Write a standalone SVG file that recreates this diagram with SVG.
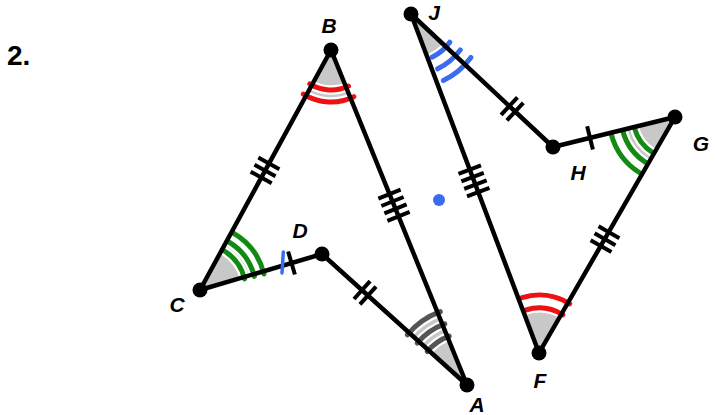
<svg xmlns="http://www.w3.org/2000/svg" xmlns:xlink="http://www.w3.org/1999/xlink" width="717" height="415" viewBox="0 0 717 415">
<style>
.fill{fill:#c8c8c8;stroke:none}
.halo{fill:none;stroke:#fff;stroke-width:9.5;stroke-linecap:round}
.arc{fill:none;stroke-width:5;stroke-linecap:round}
.red{stroke:#ee1111}
.grn{stroke:#138a13}
.blu{stroke:#3a6cf0}
.gry{stroke:#555}
.edge{stroke:#000;stroke-width:4.5;stroke-linecap:round;fill:none}
.tick{stroke:#000;stroke-width:4;fill:none}
.dot{fill:#000}
.lbl{font-family:"Liberation Sans",Arial,sans-serif;font-weight:bold;font-style:italic;font-size:21px;fill:#000;text-anchor:middle}
.num{font-family:"Liberation Sans",Arial,sans-serif;font-weight:bold;font-size:28px;fill:#000}
</style>
<defs>
<g id="t1"><line class="tick" x1="0" y1="-12" x2="0" y2="12"/></g>
<g id="t2"><line class="tick" x1="-4" y1="-12" x2="-4" y2="12"/><line class="tick" x1="4" y1="-12" x2="4" y2="12"/></g>
<g id="t3"><line class="tick" x1="-8" y1="-12" x2="-8" y2="12"/><line class="tick" x1="0" y1="-12" x2="0" y2="12"/><line class="tick" x1="8" y1="-12" x2="8" y2="12"/></g>
<g id="t4"><line class="tick" x1="-12" y1="-12" x2="-12" y2="12"/><line class="tick" x1="-4" y1="-12" x2="-4" y2="12"/><line class="tick" x1="4" y1="-12" x2="4" y2="12"/><line class="tick" x1="12" y1="-12" x2="12" y2="12"/></g>
</defs>
<text class="num" x="7" y="65">2.</text>

<g id="angle-B">
<path class="fill" d="M331,50 L351.7,101.1 A55,55 0 0 1 304.6,98.2 Z"/>
<path class="halo" d="M348.5,86.0 A40,40 0 0 1 309.8,83.9 M353.8,96.7 A52,52 0 0 1 303.4,94.1"/>
<path class="arc red" d="M348.5,86.0 A40,40 0 0 1 309.8,83.9 M353.8,96.7 A52,52 0 0 1 303.4,94.1"/>
</g>
<g id="angle-C">
<path class="fill" d="M200,290 L225.9,242.6 A54,54 0 0 1 251.8,274.8 Z"/>
<path class="halo" d="M223,250.2 A46,46 0 0 1 244.6,278.9 M228,241.5 A56,56 0 0 1 254.3,276.4 M233,232.8 A66,66 0 0 1 264.0,274.0"/>
<path class="arc grn" d="M223,250.2 A46,46 0 0 1 244.6,278.9 M228,241.5 A56,56 0 0 1 254.3,276.4 M233,232.8 A66,66 0 0 1 264.0,274.0"/>
</g>
<g id="angle-A">
<path class="fill" d="M467,385 L407.6,331.4 A80,80 0 0 1 436.9,310.9 Z"/>
<path class="halo" d="M427.2,351.6 A52,52 0 0 1 449.2,336.1 M417.2,343.2 A65,65 0 0 1 444.8,323.9 M407.3,334.8 A78,78 0 0 1 440.3,311.7"/>
<path class="arc gry" d="M427.2,351.6 A52,52 0 0 1 449.2,336.1 M417.2,343.2 A65,65 0 0 1 444.8,323.9 M407.3,334.8 A78,78 0 0 1 440.3,311.7"/>
</g>
<g id="angle-J">
<path class="fill" d="M411,14 L446.0,46.8 A48,48 0 0 1 428.0,58.9 Z"/>
<path class="halo" d="M449.8,42.2 A48,48 0 0 1 432.0,57.2 M460.3,49.9 A61,61 0 0 1 437.7,68.8 M470.9,57.5 A74,74 0 0 1 443.4,80.5"/>
<path class="arc blu" d="M449.8,42.2 A48,48 0 0 1 432.0,57.2 M460.3,49.9 A61,61 0 0 1 437.7,68.8 M470.9,57.5 A74,74 0 0 1 443.4,80.5"/>
</g>
<g id="angle-G">
<path class="fill" d="M675,117 L650.1,160.4 A50,50 0 0 1 626.5,129.0 Z"/>
<path class="halo" d="M652.7,152.6 A42,42 0 0 1 634.4,127.9 M646.4,162.8 A54,54 0 0 1 622.8,131.0 M640.0,173.0 A66,66 0 0 1 611.2,134.1"/>
<path class="arc grn" d="M652.7,152.6 A42,42 0 0 1 634.4,127.9 M646.4,162.8 A54,54 0 0 1 622.8,131.0 M640.0,173.0 A66,66 0 0 1 611.2,134.1"/>
</g>
<g id="angle-F">
<path class="fill" d="M539,353 L522.8,310.0 A46,46 0 0 1 562,313.2 Z"/>
<path class="halo" d="M525.9,310.0 A45,45 0 0 1 562.9,314.8 M522.1,297.6 A58,58 0 0 1 569.7,303.8"/>
<path class="arc red" d="M525.9,310.0 A45,45 0 0 1 562.9,314.8 M522.1,297.6 A58,58 0 0 1 569.7,303.8"/>
</g>

<g id="connectors">
<line class="edge" x1="331" y1="50" x2="200" y2="290"/>
<line class="edge" x1="331" y1="50" x2="467" y2="385"/>
<line class="edge" x1="200" y1="290" x2="322" y2="254"/>
<line class="edge" x1="322" y1="254" x2="467" y2="385"/>
<line class="edge" x1="411" y1="14" x2="553" y2="147"/>
<line class="edge" x1="553" y1="147" x2="675" y2="117"/>
<line class="edge" x1="675" y1="117" x2="539" y2="353"/>
<line class="edge" x1="539" y1="353" x2="411" y2="14"/>
<use xlink:href="#t3" href="#t3" transform="translate(265,170.4) rotate(118.7)"/>
<use xlink:href="#t4" href="#t4" transform="translate(394,205.2) rotate(67.9)"/>
<use xlink:href="#t4" href="#t4" transform="translate(474,180.8) rotate(69.2)"/>
<use xlink:href="#t1" href="#t1" transform="translate(291.5,263) rotate(-16.4)"/>
<use xlink:href="#t2" href="#t2" transform="translate(365,292.8) rotate(42.1)"/>
<use xlink:href="#t2" href="#t2" transform="translate(512.2,108.8) rotate(43.1)"/>
<use xlink:href="#t1" href="#t1" transform="translate(590,137.9) rotate(-13.8)"/>
<use xlink:href="#t3" href="#t3" transform="translate(605,239.2) rotate(119.8)"/>
<line x1="283.3" y1="252" x2="282" y2="273" stroke="#3a6cf0" stroke-width="3.5" stroke-linecap="round"/>
</g>

<g id="node-B"><circle class="dot" cx="331" cy="50" r="7.5"/><text class="lbl" x="329" y="33">B</text></g>
<g id="node-C"><circle class="dot" cx="200" cy="290" r="7.5"/><text class="lbl" x="177" y="312">C</text></g>
<g id="node-D"><circle class="dot" cx="322" cy="254" r="7.5"/><text class="lbl" x="300" y="238">D</text></g>
<g id="node-A"><circle class="dot" cx="467" cy="385" r="7.5"/><text class="lbl" x="477" y="412">A</text></g>
<g id="node-J"><circle class="dot" cx="411" cy="14" r="7.5"/><text class="lbl" x="434" y="20">J</text></g>
<g id="node-H"><circle class="dot" cx="553" cy="147" r="7.5"/><text class="lbl" x="578" y="180">H</text></g>
<g id="node-G"><circle class="dot" cx="675" cy="117" r="7.5"/><text class="lbl" x="701" y="151">G</text></g>
<g id="node-F"><circle class="dot" cx="539" cy="353" r="7.5"/><text class="lbl" x="540" y="388">F</text></g>
<g id="mark"><circle cx="439" cy="200" r="6" fill="#3a6cf0"/></g>
</svg>
